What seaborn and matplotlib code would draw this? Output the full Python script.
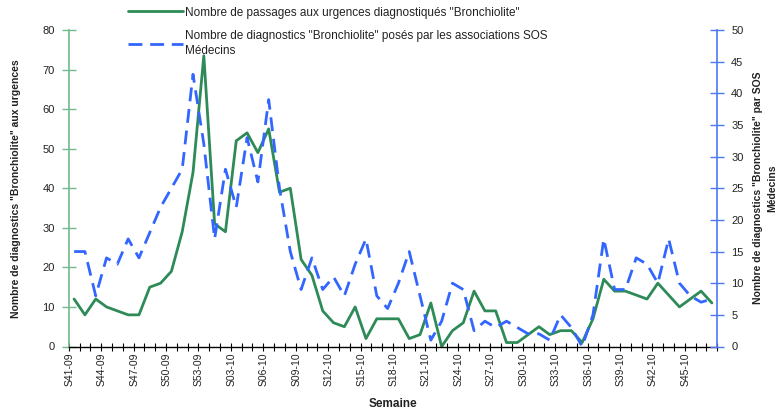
import numpy as np
import pandas as pd
import matplotlib
matplotlib.use("Agg")
import matplotlib.pyplot as plt
from matplotlib.ticker import FixedLocator, FixedFormatter
import seaborn as sns

# ---- data ----
weeks = [f"S{w}-09" for w in range(41, 54)] + [f"S{w:02d}-10" for w in range(1, 48)]
urgences = [12, 8, 12, 10, 9, 8, 8, 15, 16, 19, 29, 44, 73.5, 31, 29,
            52, 54, 49, 55, 39, 40, 22, 18, 9, 6, 5, 10, 2, 7, 7,
            7, 2, 3, 11, 0, 4, 6, 14, 9, 9, 1, 1, 3, 5, 3,
            4, 4, 1, 7, 17, 14, 14, 13, 12, 16, 13, 10, 12, 14, 11]
sos = [15, 15, 8, 14, 13, 17, 14, 18, 22, 25, 28, 43, 32, 17, 28,
       22, 33, 26, 39, 25, 15, 9, 14, 9, 11, 8, 13, 17, 8, 6,
       10, 15, 8, 1, 4, 10, 9, 2.5, 4, 3, 4, 3, 2, 2, 1,
       5, 3, 0, 5, 17, 9, 9, 14, 13, 10, 17, 10, 8, 7, 7.5]
label_urg = 'Nombre de passages aux urgences diagnostiqués "Bronchiolite"'
label_sos = 'Nombre de diagnostics "Bronchiolite" posés par les associations SOS\nMédecins'
ylabel_left = 'Nombre de diagnostics "Bronchiolite" aux urgences'
ylabel_right = 'Nombre de diagnostics "Bronchiolite" par SOS\nMédecins'
xlabel = 'Semaine'

df = pd.DataFrame({"pos": np.arange(len(weeks)), "semaine": weeks,
                   "urgences": urgences, "sos": sos})

sns.set_style("white")
plt.rcParams['font.family'] = ['Liberation Sans', 'DejaVu Sans']

GREEN = "#2e8b57"
GREEN_AX = "#72b98e"
BLUE = "#3366ff"
BLUE_AX = "#4d78f5"
TXT = "#222222"

fig = plt.figure(figsize=(7.82, 4.09), dpi=100)
ax = fig.add_axes([68.7/782, 1-346.5/409, (717.3-68.7)/782, (346.5-30)/409])
ax2 = ax.twinx()

sns.lineplot(data=df, x="pos", y="urgences", ax=ax, color=GREEN, linewidth=2.0,
             label=label_urg, legend=False)
sns.lineplot(data=df, x="pos", y="sos", ax=ax2, color=BLUE, linewidth=2.0,
             label=label_sos, legend=False)
ax2.lines[0].set_linestyle((0, (5, 2.8)))

n = len(weeks)
ax.set_xlim(-0.5, n - 0.5)
ax.set_ylim(0, 80)
ax2.set_ylim(0, 50)

# x axis: boundary ticks (minor) and labels every 3 weeks
label_idx = list(range(0, n - 2, 3))
ax.xaxis.set_major_locator(FixedLocator([i - 0.45 for i in label_idx]))
ax.xaxis.set_major_formatter(FixedFormatter([weeks[i] for i in label_idx]))
ax.xaxis.set_minor_locator(FixedLocator(np.arange(-0.5, n, 1.0)))
ax.tick_params(axis='x', which='major', bottom=True, length=0, pad=4, labelsize=7.5,
               labelrotation=90, labelcolor=TXT)
ax.tick_params(axis='x', which='minor', bottom=True, length=6, width=0.8,
               direction='inout', color='black')

ax.set_yticks(np.arange(0, 81, 10))
ax.tick_params(axis='y', left=True, length=10, width=1.0, direction='inout',
               color=GREEN_AX, labelsize=8, labelcolor=TXT, pad=5)
ax2.set_yticks(np.arange(0, 51, 5))
ax2.tick_params(axis='y', right=True, length=10, width=1.0, direction='inout',
                color=BLUE_AX, labelsize=8, labelcolor=TXT, pad=5)

for s in ['top', 'right']:
    ax.spines[s].set_visible(False)
for s in ['top', 'left', 'bottom']:
    ax2.spines[s].set_visible(False)
ax.spines['left'].set_color(GREEN_AX)
ax.spines['left'].set_linewidth(1.2)
ax.spines['bottom'].set_color('black')
ax.spines['bottom'].set_linewidth(1.0)
ax2.spines['right'].set_color(BLUE_AX)
ax2.spines['right'].set_linewidth(1.2)

ax.set_xlabel(xlabel, fontsize=8.5, fontweight='bold', color=TXT, labelpad=9)
ax.set_ylabel(ylabel_left, fontsize=7.5, fontweight='bold', color=TXT)
ax.yaxis.set_label_coords(-0.074, 0.5)
ax2.set_ylabel(ylabel_right, fontsize=7.5, fontweight='bold', color=TXT,
               linespacing=1.6, rotation=90, va='center')
ax2.yaxis.set_label_coords(1.074, 0.5)

handles = [ax.lines[0], ax2.lines[0]]
leg = fig.legend(handles, [label_urg, label_sos], loc='upper left',
                 bbox_to_anchor=(0.150, 1.01), frameon=False, fontsize=8.5,
                 handlelength=4.7, handletextpad=0.15, labelspacing=1.0,
                 labelcolor=TXT)
for t in leg.get_texts():
    t.set_linespacing(1.3)

fig.savefig("out.png", dpi=100)
